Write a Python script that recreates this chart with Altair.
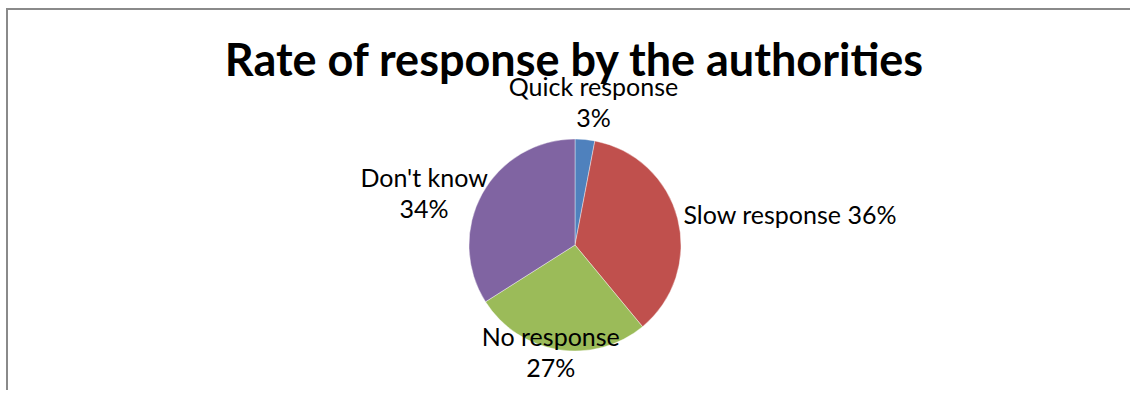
import altair as alt
import pandas as pd

# ---- data ----
categories = ["Quick response", "Slow response", "No response", "Don't know"]
values = [3, 36, 27, 34]
colors = ["#4F81BD", "#C0504D", "#9BBB59", "#8064A2"]
title_text = "Rate of response by the authorities"

total = sum(values)
df = pd.DataFrame({"idx": list(range(len(categories))), "category": categories, "value": values})

# ---- layout / style ----
W, H = 1110, 290
PAD = {"left": 20, "top": 100, "right": 0, "bottom": 0}
FONT = "Lato"
R = 106

theta_scale = alt.Scale(domain=[0, total])

pie = alt.Chart(df).mark_arc(outerRadius=R, stroke="#ffffff", strokeWidth=0.4).encode(
    theta=alt.Theta("value:Q", stack=True, scale=theta_scale),
    color=alt.Color("category:N", scale=alt.Scale(domain=categories, range=colors), legend=None),
    order=alt.Order("idx:Q"),
)

# label placement (style, per slice): separator, radius, align, dx, dy
placement = [
    ("\n", 143, "center", 5, -15),
    (" ", 112, "left", 0, -1),
    ("\n", 110, "center", -7, -16),
    ("\n", 106, "center", -58, -15),
]


def js_str(s):
    return "'" + s.replace("\\", "\\\\").replace("'", "\\'").replace("\n", "\\n") + "'"


label_layers = []
for i, (sep, r, align, dx, dy) in enumerate(placement):
    lab = f"{categories[i]}{sep}{values[i]}%"
    layer = (
        alt.Chart(df)
        .transform_window(cum="sum(value)", sort=[alt.SortField("idx")], frame=[None, 0])
        .transform_calculate(mid="datum.cum - datum.value / 2", lab=js_str(lab))
        .transform_filter(alt.datum.idx == i)
        .mark_text(
            radius=r, align=align, baseline="middle", dx=dx, dy=dy,
            font=FONT, fontSize=25, color="#000000", lineBreak="\n", lineHeight=31,
        )
        .encode(
            theta=alt.Theta("mid:Q", stack=False, scale=theta_scale),
            text="lab:N",
        )
    )
    label_layers.append(layer)

one = pd.DataFrame({"t": [title_text]})

# chart frame: top and left edges (right / bottom edges lie outside the picture)
frame_top = alt.Chart(one).mark_rule(color="#8a8a8a", strokeWidth=2).encode(
    x=alt.value(6 - PAD["left"]), x2=alt.value(W),
    y=alt.value(9 - PAD["top"]),
)
frame_left = alt.Chart(one).mark_rule(color="#8a8a8a", strokeWidth=2).encode(
    x=alt.value(7 - PAD["left"]),
    y=alt.value(8 - PAD["top"]), y2=alt.value(H),
)

title = alt.Chart(one).mark_text(
    font=FONT, fontSize=45, fontWeight="bold", color="#000000",
    align="center", baseline="alphabetic",
).encode(
    text="t:N",
    x=alt.value(W / 2 - 1),
    y=alt.value(76 - PAD["top"]),
)

chart = alt.layer(frame_top, frame_left, pie, *label_layers, title).properties(
    width=W, height=H, padding=PAD,
    autosize=alt.AutoSizeParams(type="none"),
    background="#ffffff",
).configure_view(stroke=None)

chart.save("out.html", embed_options={"renderer": "svg", "actions": False})
